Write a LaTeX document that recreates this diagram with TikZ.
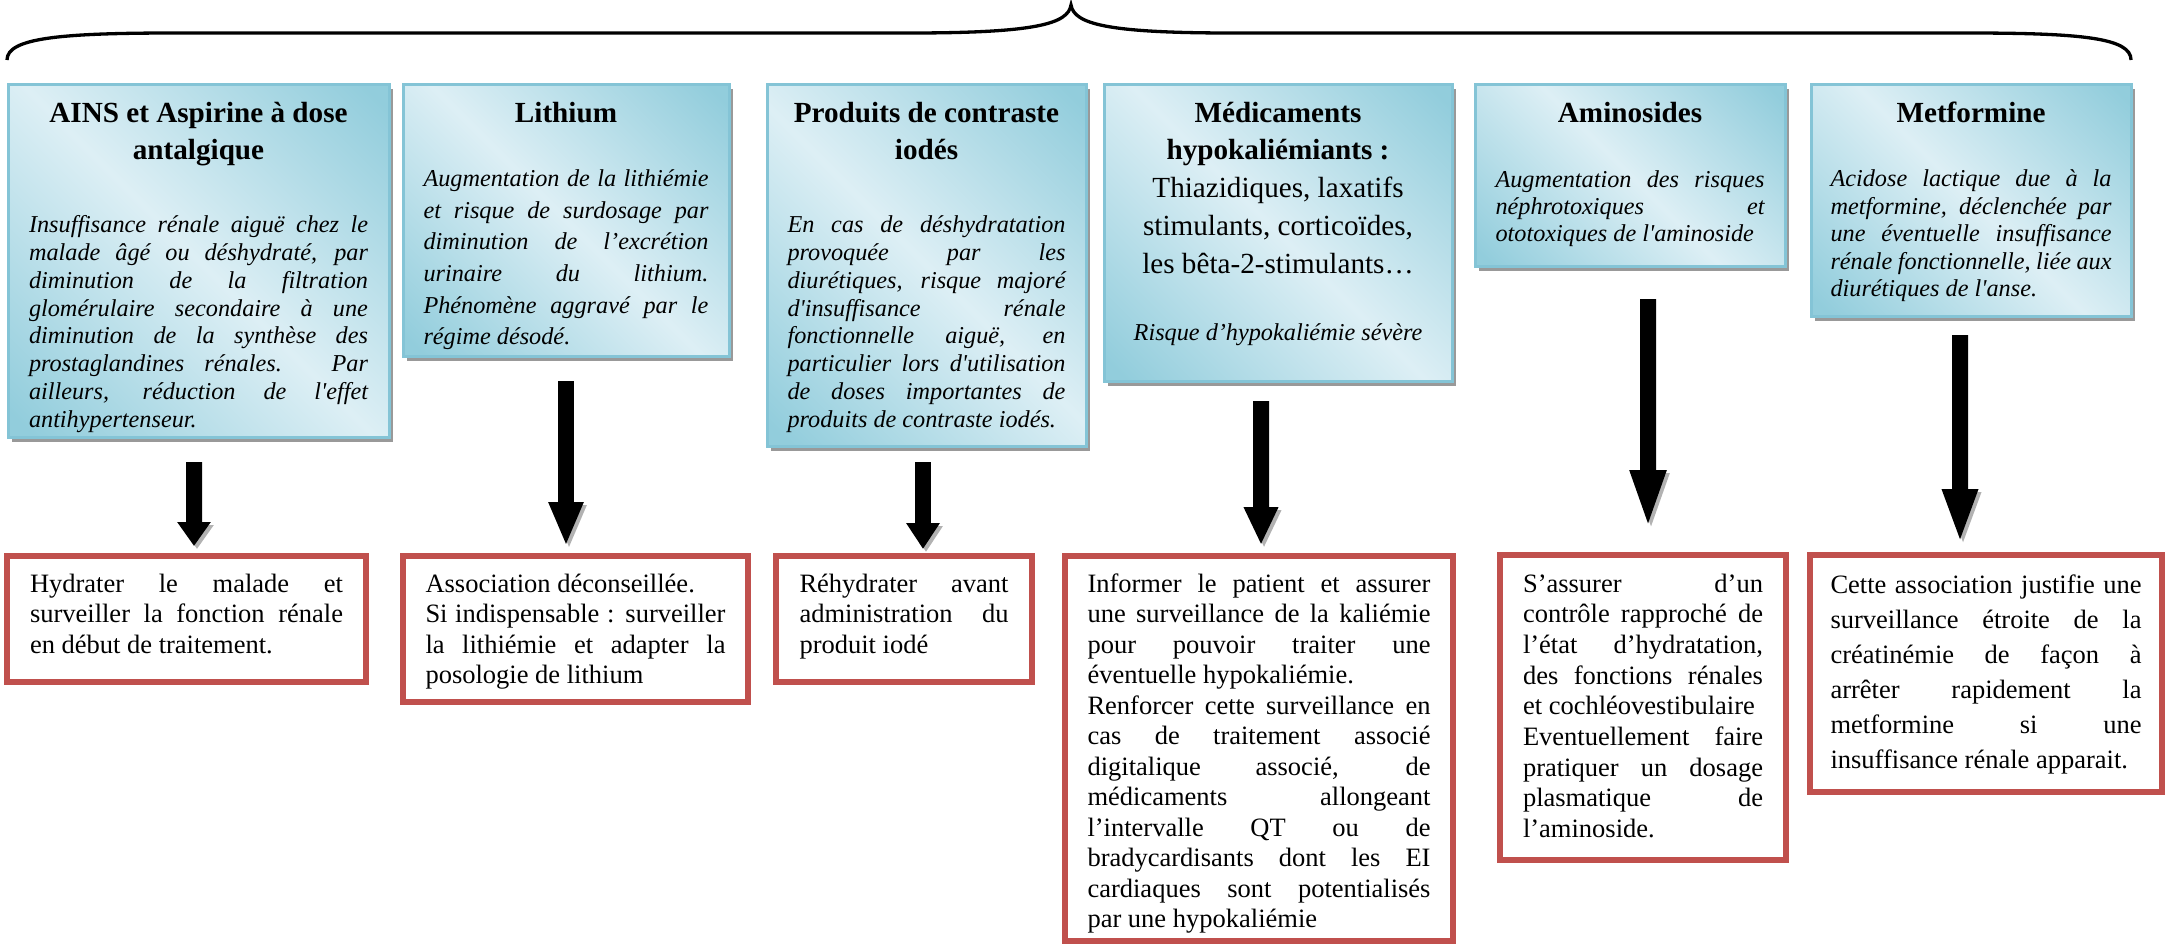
\documentclass[tikz,border=0pt]{standalone}
\usepackage{fontspec}
\setmainfont{Liberation Serif}[Ligatures=TeXOff]
\usetikzlibrary{arrows.meta,shadows}

\definecolor{bluedark}{RGB}{146,205,220}
\definecolor{bluelight}{RGB}{221,239,245}
\definecolor{bluerim}{RGB}{132,196,214}
\definecolor{advred}{RGB}{192,80,77}

\pgfdeclarehorizontalshading{bluegrad}{100bp}{color(0bp)=(bluedark); color(17bp)=(bluedark); color(50bp)=(bluelight); color(83bp)=(bluedark); color(100bp)=(bluedark)}

\tolerance=10000
\hbadness=10000
\adjdemerits=0
\hyphenpenalty=10000
\exhyphenpenalty=10000
\lineskiplimit=-10pt

\tikzset{
  drugbox/.style={draw=bluerim, line width=0.3mm, shade, shading=bluegrad, shading angle=45,
    drop shadow={shadow xshift=0.4mm, shadow yshift=-0.45mm, fill=black!40, opacity=1},
    anchor=north west, outer sep=0, inner ysep=0, align=justify, text height=3.8mm,
    font=\fontsize{8.3}{10.8}\selectfont},
  advicebox/.style={draw=advred, line width=0.65mm, fill=white,
    anchor=north west, outer sep=0, inner ysep=0, align=justify, text height=3.6mm,
    font=\fontsize{7.54}{8.68}\selectfont},
  bigarrow/.style={line width=1.6mm, -{Triangle[width=3.2mm,length=#1]},
    preaction={draw=black!30, transform canvas={shift={(0.3mm,-0.3mm)}}}}
}

\begin{document}
\begin{tikzpicture}[x=0.1mm, y=-0.1mm]
  \useasboundingbox (0,0) rectangle (2167,946);

  \draw [line width=0.33mm] (7,60) .. controls (7,38) and (60,33) .. (175,33) -- (910,33)
    .. controls (1035,33) and (1068,24) .. (1071,5)
    .. controls (1074,24) and (1107,33) .. (1232,33) -- (1967,33)
    .. controls (2082,33) and (2131,38) .. (2131,60);

  \node [drugbox, text width=33.9mm, inner xsep=2.1mm, text depth=31.5mm] (ains) at (8,84)
    {{\centering\bfseries AINS et Aspirine à dose\\ antalgique\par}
     \vspace{4.5mm}
     {\fontsize{6.9}{7.9}\selectfont\itshape Insuffisance rénale aiguë chez le \linebreak
      malade âgé ou déshydraté, par \linebreak diminution de la filtration \linebreak
      glomérulaire secondaire à une \linebreak diminution de la synthèse des \linebreak
      prostaglandines rénales. Par \linebreak ailleurs, réduction de l'effet \linebreak
      antihypertenseur.\par}};
  \node [drugbox, text width=28.5mm, inner xsep=2.05mm, text depth=23.4mm] (lithium) at (403,84)
    {{\centering\bfseries Lithium\par}
     \vspace{3.3mm}
     {\fontsize{6.9}{9}\selectfont\itshape Augmentation de la lithiémie \linebreak
      et risque de surdosage par \linebreak diminution de l’excrétion \linebreak
      urinaire du lithium. \linebreak Phénomène aggravé par le \linebreak
      régime désodé.\par}};
  \node [drugbox, text width=27.8mm, inner xsep=2.05mm, text depth=32.4mm] (contraste) at (767,84)
    {{\centering\bfseries Produits de contraste\\ iodés\par}
     \vspace{4.5mm}
     {\fontsize{6.9}{7.9}\selectfont\itshape En cas de déshydratation \linebreak
      provoquée par les \linebreak diurétiques, risque majoré \linebreak
      d'insuffisance rénale \linebreak fonctionnelle aiguë, en \linebreak
      particulier lors d'utilisation \linebreak de doses importantes de \linebreak
      produits de contraste iodés.\par}};
  \node [drugbox, text width=30mm, inner xsep=2.4mm, text depth=25.9mm] (hypok) at (1104,84)
    {{\centering\bfseries Médicaments\\ hypokaliémiants :\\
      \mdseries Thiazidiques, laxatifs\\ stimulants, corticoïdes,\\ les bêta-2-stimulants…\par}
     \vspace{3.9mm}
     {\centering\fontsize{6.9}{7.9}\selectfont\itshape Risque d’hypokaliémie sévère\par}};
  \node [drugbox, text width=26.9mm, inner xsep=2.05mm, text depth=14.4mm] (aminos) at (1475,84)
    {{\centering\bfseries Aminosides\par}
     \vspace{3.9mm}
     {\fontsize{6.9}{7.6}\selectfont\itshape Augmentation des risques \linebreak
      néphrotoxiques et \linebreak ototoxiques de l'aminoside\par}};
  \node [drugbox, text width=28.1mm, inner xsep=1.95mm, text depth=19.4mm] (metf) at (1811,84)
    {{\centering\bfseries Metformine\par}
     \vspace{3.75mm}
     {\fontsize{6.9}{7.8}\selectfont\itshape Acidose lactique due à la \linebreak
      metformine, déclenchée par \linebreak une éventuelle insuffisance \linebreak
      rénale fonctionnelle, liée aux \linebreak diurétiques de l'anse.\par}};

  \node [advicebox, text width=31.3mm, inner xsep=2.3mm, text depth=9mm] (hydrater) at (7,556)
    {Hydrater le malade et \linebreak surveiller la fonction rénale \linebreak
     en début de traitement.};
  \node [advicebox, text width=30mm, inner xsep=2.25mm, text depth=11mm] (deconseil) at (403,556)
    {Association déconseillée.\par
     Si indispensable : surveiller \linebreak la lithiémie et adapter la \linebreak
     posologie de lithium};
  \node [advicebox, text width=20.9mm, inner xsep=2.35mm, text depth=9mm] (rehydrat) at (776,556)
    {Réhydrater avant \linebreak administration du \linebreak produit iodé};
  \node [advicebox, text width=34.3mm, inner xsep=2.25mm, text depth=34.9mm] (kaliem) at (1065,556)
    {Informer le patient et assurer \linebreak une surveillance de la kaliémie \linebreak
     pour pouvoir traiter une \linebreak éventuelle hypokaliémie.\par
     Renforcer cette surveillance en \linebreak cas de traitement associé \linebreak
     digitalique associé, de \linebreak médicaments allongeant \linebreak
     l’intervalle QT ou de \linebreak bradycardisants dont les EI \linebreak
     cardiaques sont potentialisés \linebreak par une hypokaliémie};
  \node [advicebox, text width=24mm, inner xsep=2.3mm, text height=3.7mm, text depth=26.8mm,
    font=\fontsize{7.54}{8.73}\selectfont] (controle) at (1500,555)
    {S’assurer d’un \linebreak contrôle rapproché de \linebreak l’état d’hydratation, \linebreak
     des fonctions rénales \linebreak et cochléovestibulaire\par
     Eventuellement faire \linebreak pratiquer un dosage \linebreak plasmatique de \linebreak
     l’aminoside.};
  \node [advicebox, text width=31.1mm, inner xsep=2.05mm, text height=3.8mm, text depth=19.9mm,
    font=\fontsize{7.54}{9.96}\selectfont] (creatin) at (1810,555)
    {Cette association justifie une \linebreak surveillance étroite de la \linebreak
     créatinémie de façon à \linebreak arrêter rapidement la \linebreak
     metformine si une \linebreak insuffisance rénale apparait.};

  \draw [bigarrow=2.4mm, shorten <=2.5mm, shorten >=1mm] ([xshift=-0.45mm]ains.south) -- ([xshift=0.75mm]hydrater.north);
  \draw [bigarrow=4.4mm, shorten <=2.5mm, shorten >=1mm] (lithium.south) -- ([xshift=-0.95mm]deconseil.north);
  \draw [bigarrow=2.6mm, shorten <=1.6mm, shorten >=0.7mm] ([xshift=-0.35mm]contraste.south) -- ([xshift=1.9mm]rehydrat.north);
  \draw [bigarrow=3.8mm, shorten <=2mm, shorten >=1.1mm] ([xshift=-1.7mm]hypok.south) -- ([xshift=0.2mm]kaliem.north);
  \draw [bigarrow=6mm, shorten <=3.3mm, shorten >=2.5mm] ([xshift=1.8mm]aminos.south) -- ([xshift=0.5mm]controle.north);
  \draw [bigarrow=5.5mm, shorten <=1.9mm, shorten >=1.1mm] ([xshift=-1.1mm]metf.south) -- ([xshift=-2.6mm]creatin.north);
\end{tikzpicture}
\end{document}
